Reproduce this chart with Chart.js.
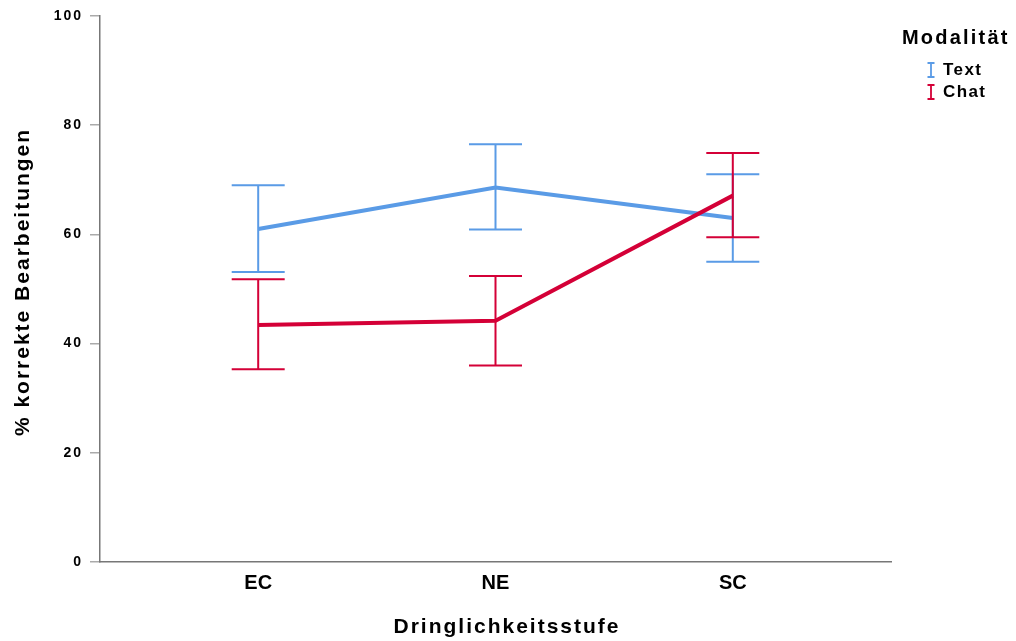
<!DOCTYPE html>
<html>
<head>
<meta charset="utf-8">
<script src="https://cdn.jsdelivr.net/npm/chart.js@4"></script>
<style>
  html, body { margin: 0; padding: 0; background: #fff; }
  #wrap { width: 1016px; height: 641px; }
</style>
</head>
<body>
<div id="wrap"><canvas id="chart"></canvas></div>
<script>
const categories = ['EC', 'NE', 'SC'];
const seriesNames = ['Text', 'Chat'];

// mean values (% correct)
const textMean = [61.0, 68.6, 63.0];
const chatMean = [43.4, 44.2, 67.1];

// error bar limits
const textLow = [53.1, 60.9, 55.0];
const textHigh = [69.0, 76.5, 71.0];
const chatLow = [35.3, 36.0, 59.5];
const chatHigh = [51.8, 52.4, 74.9];

const yTicks = [0, 20, 40, 60, 80, 100];

const blue = '#5a9be6';
const red = '#d40037';
const font = "'Liberation Sans', Arial, Helvetica, sans-serif";

const toPoints = (values) => values.map((v, i) => ({ x: i + 1, y: v }));

// draws the error bars of every dataset, right after the dataset itself
const errorBars = {
    id: 'errorBars',
    afterDatasetDraw(chart, args) {
        const ds = chart.data.datasets[args.index];
        const yScale = chart.scales.y;
        const ctx = chart.ctx;
        const half = 26.5;
        ctx.save();
        ctx.strokeStyle = ds.borderColor;
        ctx.lineWidth = 2;
        args.meta.data.forEach((pt, i) => {
            const top = yScale.getPixelForValue(ds.high[i]);
            const bottom = yScale.getPixelForValue(ds.low[i]);
            ctx.beginPath();
            ctx.moveTo(pt.x, top);
            ctx.lineTo(pt.x, bottom);
            ctx.moveTo(pt.x - half, top);
            ctx.lineTo(pt.x + half, top);
            ctx.moveTo(pt.x - half, bottom);
            ctx.lineTo(pt.x + half, bottom);
            ctx.stroke();
        });
        ctx.restore();
    }
};

// spaced lettering like the original, axis titles and the legend on the right
const labels = {
    id: 'labels',
    beforeDraw(chart) {
        // y axis labels are drawn first, with spaced digits
        chart.ctx.letterSpacing = '2px';
    },
    afterDatasetsDraw(chart) {
        // x tick labels (ticks.z: 1) come after the datasets, plain lettering
        chart.ctx.letterSpacing = '0px';
    },
    afterDraw(chart) {
        const ctx = chart.ctx;
        ctx.save();
        ctx.fillStyle = '#000';
        ctx.textBaseline = 'middle';

        // axis titles
        ctx.letterSpacing = '2px';
        ctx.font = 'bold 21px ' + font;
        ctx.textAlign = 'center';
        ctx.fillText('Dringlichkeitsstufe', 507, 627);
        ctx.save();
        ctx.translate(23, 282);
        ctx.rotate(-Math.PI / 2);
        ctx.fillText('% korrekte Bearbeitungen', 0, 0);
        ctx.restore();

        // legend
        ctx.textAlign = 'left';
        ctx.letterSpacing = '2.2px';
        ctx.font = 'bold 20px ' + font;
        ctx.fillText('Modalität', 902, 38);

        ctx.letterSpacing = '1.4px';
        ctx.font = 'bold 17px ' + font;
        chart.data.datasets.forEach((ds, i) => {
            const y = 70 + i * 22;
            ctx.strokeStyle = ds.borderColor;
            ctx.lineWidth = 1.8;
            ctx.beginPath();
            ctx.moveTo(931, y - 7);
            ctx.lineTo(931, y + 7);
            ctx.moveTo(927.5, y - 7);
            ctx.lineTo(934.5, y - 7);
            ctx.moveTo(927.5, y + 7);
            ctx.lineTo(934.5, y + 7);
            ctx.stroke();
            ctx.fillText(ds.label, 943, y);
        });
        ctx.restore();
    }
};

new Chart(document.getElementById('chart'), {
    type: 'line',
    data: {
        datasets: [
            {
                label: seriesNames[0],
                data: toPoints(textMean),
                low: textLow,
                high: textHigh,
                borderColor: blue,
                borderWidth: 4,
                pointRadius: 0,
                order: 2,
            },
            {
                label: seriesNames[1],
                data: toPoints(chatMean),
                low: chatLow,
                high: chatHigh,
                borderColor: red,
                borderWidth: 4,
                pointRadius: 0,
                order: 1,
            },
        ],
    },
    options: {
        responsive: true,
        maintainAspectRatio: false,
        animation: false,
        layout: {
            padding: { top: 16, right: 125, left: 0, bottom: 0 }
        },
        plugins: {
            legend: { display: false },
            tooltip: { enabled: false }
        },
        scales: {
            x: {
                type: 'linear',
                min: 1 / 3,
                max: 11 / 3,
                afterBuildTicks: (scale) => {
                    scale.ticks = categories.map((c, i) => ({ value: i + 1 }));
                },
                afterFit: (scale) => { scale.height = 79; },
                grid: { display: false, drawTicks: false },
                border: { display: true, color: '#777', width: 1.5 },
                ticks: {
                    z: 1,
                    color: '#000',
                    padding: 9,
                    autoSkip: false,
                    maxRotation: 0,
                    font: { family: font, size: 20, weight: 'bold' },
                    callback: (value) => categories[value - 1]
                }
            },
            y: {
                min: 0,
                max: 100,
                afterBuildTicks: (scale) => {
                    scale.ticks = yTicks.map((v) => ({ value: v }));
                },
                afterFit: (scale) => { scale.width = 100; },
                grid: {
                    drawOnChartArea: false,
                    drawTicks: true,
                    tickLength: 10,
                    tickColor: '#aaa',
                    lineWidth: 1.5
                },
                border: { display: true, color: '#777', width: 1.5 },
                ticks: {
                    color: '#000',
                    padding: 7,
                    font: { family: font, size: 14, weight: 'bold' }
                }
            }
        }
    },
    plugins: [errorBars, labels]
});
</script>
</body>
</html>
